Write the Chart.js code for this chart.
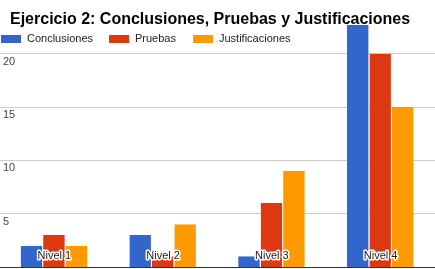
<!DOCTYPE html>
<html><head><meta charset="utf-8">
<script src="https://cdn.jsdelivr.net/npm/chart.js@4.4.1/dist/chart.umd.min.js"></script>
<style>html,body{margin:0;padding:0;background:#fff;overflow:hidden}#c{display:block}</style>
</head><body>
<canvas id="c" width="435" height="269"></canvas>
<script>
const titleText = 'Ejercicio 2: Conclusiones, Pruebas y Justificaciones';
const categories = ['Nivel 1', 'Nivel 2', 'Nivel 3', 'Nivel 4'];
const seriesNames = ['Conclusiones', 'Pruebas', 'Justificaciones'];
const conclusiones = [2, 3, 1, 25];
const pruebas = [3, 1, 6, 20];
const justificaciones = [2, 4, 9, 15];
const yTickValues = [5, 10, 15, 20];
const yMax = 22.7;

const colors = ['#3366cc', '#dc3912', '#ff9900'];
const FONT = '"Liberation Sans", Arial, sans-serif';

const overlay = {
  id: 'overlay',
  afterDatasetsDraw(chart) {
    const ctx = chart.ctx;
    const a = chart.chartArea;
    ctx.save();
    ctx.strokeStyle = '#333';
    ctx.lineWidth = 1;
    ctx.beginPath();
    const yb = Math.round(a.bottom) + 0.5;
    ctx.moveTo(a.left, yb);
    ctx.lineTo(a.right, yb);
    ctx.stroke();
    ctx.restore();
  },
  afterDraw(chart) {
    const ctx = chart.ctx;
    ctx.save();
    // title
    ctx.font = 'bold 16px ' + FONT;
    ctx.fillStyle = '#000';
    ctx.textAlign = 'left';
    ctx.textBaseline = 'alphabetic';
    ctx.fillText(titleText, 10, 24);
    // legend
    const legendX = [1, 109, 193];
    ctx.font = '11px ' + FONT;
    ctx.textBaseline = 'middle';
    chart.data.datasets.forEach((ds, i) => {
      ctx.fillStyle = ds.backgroundColor;
      ctx.fillRect(legendX[i], 35, 20, 8);
      ctx.fillStyle = '#222';
      ctx.fillText(ds.label, legendX[i] + 26, 39);
    });
    // category labels inside chart
    const xs = chart.scales.x;
    ctx.font = '11px ' + FONT;
    ctx.textAlign = 'center';
    ctx.textBaseline = 'middle';
    ctx.lineJoin = 'round';
    chart.data.labels.forEach((lab, i) => {
      const px = xs.getPixelForValue(i);
      ctx.strokeStyle = '#fff';
      ctx.lineWidth = 3;
      ctx.strokeText(lab, px, 256);
      ctx.fillStyle = '#222';
      ctx.fillText(lab, px, 256);
    });
    ctx.restore();
  }
};

new Chart(document.getElementById('c'), {
  type: 'bar',
  data: {
    labels: categories,
    datasets: [
      { label: seriesNames[0], data: conclusiones, backgroundColor: colors[0] },
      { label: seriesNames[1], data: pruebas, backgroundColor: colors[1] },
      { label: seriesNames[2], data: justificaciones, backgroundColor: colors[2] }
    ].map(d => Object.assign(d, {
      borderColor: '#fff',
      borderWidth: { left: 0, right: 1, top: 0, bottom: 0 },
      borderSkipped: false,
      barPercentage: 1,
      categoryPercentage: 0.62
    }))
  },
  options: {
    responsive: false,
    animation: false,
    devicePixelRatio: 1,
    layout: { padding: { top: 25, bottom: 2, left: 0, right: 0 } },
    plugins: { legend: { display: false }, title: { display: false }, tooltip: { enabled: false } },
    scales: {
      x: {
        display: false
      },
      y: {
        min: 0,
        max: yMax,
        afterFit: (s) => { s.width = 0; s.paddingTop = 0; s.paddingBottom = 0; },
        afterBuildTicks: (scale) => { scale.ticks = yTickValues.map(v => ({ value: v })); },
        grid: { color: '#cccccc', drawTicks: false },
        border: { display: false },
        ticks: {
          mirror: true,
          padding: 3,
          labelOffset: 8,
          color: '#444',
          font: { family: FONT, size: 11 }
        }
      }
    }
  },
  plugins: [overlay]
});
</script>
</body></html>
